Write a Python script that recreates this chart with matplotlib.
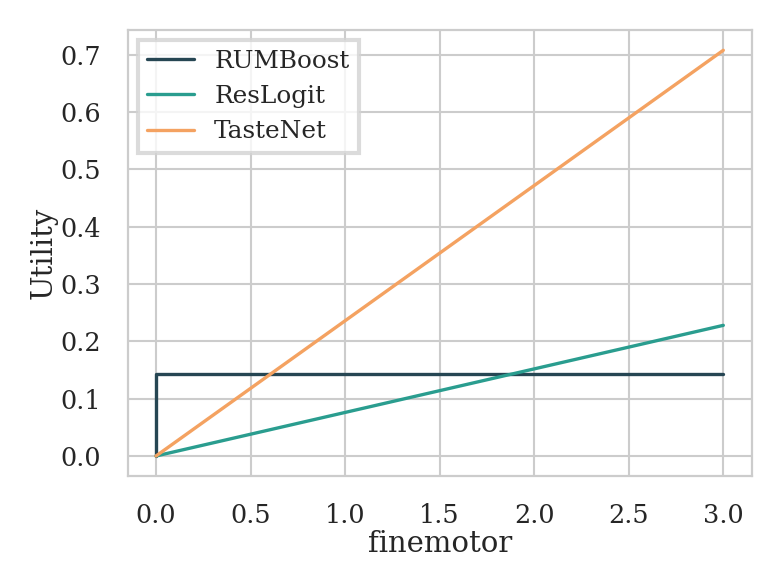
import matplotlib
matplotlib.use("Agg")
import matplotlib.pyplot as plt
import seaborn as sns

sns.set_theme(style="whitegrid")
plt.rcParams['font.family'] = ['DejaVu Serif']

# dados
x_vals = [0.0, 0.0, 3.0]
rumboost = [0.0, 0.143, 0.143]
x_lin = [0.0, 3.0]
reslogit = [0.0, 0.228]
tastenet = [0.0, 0.708]

fig = plt.figure(figsize=(3.915, 2.94), dpi=200)
ax = fig.add_axes([0.163, 0.190, 0.797, 0.759])

ax.plot(x_vals, rumboost, color='#264653', lw=1.2, label='RUMBoost')
ax.plot(x_lin, reslogit, color='#2a9d8f', lw=1.2, label='ResLogit')
ax.plot(x_lin, tastenet, color='#f4a261', lw=1.2, label='TasteNet')

ax.set_xlabel('finemotor', fontsize=10.5, labelpad=1)
ax.set_ylabel('Utility', fontsize=10.5, labelpad=1)
ax.tick_params(labelsize=9.2, pad=3.5)
for s in ax.spines.values():
    s.set_color('#cccccc')
    s.set_linewidth(0.8)
ax.grid(color='#cccccc', lw=0.75)

leg = ax.legend(loc='upper left', fontsize=8.9, fancybox=False, framealpha=0.8,
                borderaxespad=0.4, handlelength=1.9)
leg.get_frame().set_edgecolor('#d3d3d3')
leg.get_frame().set_linewidth(1.5)

plt.savefig('out.png', dpi=200)
